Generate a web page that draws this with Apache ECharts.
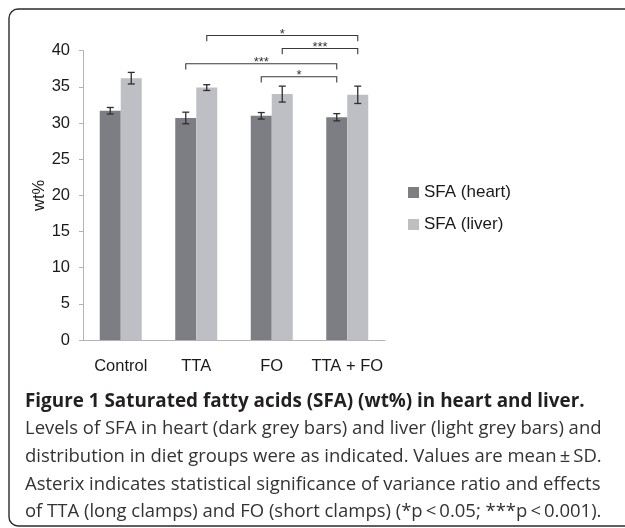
<!DOCTYPE html>
<html><head><meta charset="utf-8">
<script src="https://cdn.jsdelivr.net/npm/echarts@6/dist/echarts.min.js"></script>
<style>html,body{margin:0;padding:0;background:#fff}#c{width:625px;height:528px}</style>
</head><body><div id="c"></div>
<script>
// ---- data ----
const categories = ['Control', 'TTA', 'FO', 'TTA + FO'];
const seriesNames = ['SFA (heart)', 'SFA (liver)'];
const heartMean = [31.7, 30.7, 31.0, 30.8];
const heartSD   = [0.45, 0.8, 0.45, 0.5];
const liverMean = [36.2, 34.9, 34.0, 33.9];
const liverSD   = [0.8, 0.4, 1.1, 1.2];
const yMin = 0, yMax = 40, yStep = 5;
// significance brackets: [category, series(0 heart / 1 liver)] -> [category, series]
const bracketFrom  = [[1, 1], [2, 1], [1, 0], [2, 0]];
const bracketTo    = [[3, 1], [3, 1], [3, 0], [3, 0]];
const bracketLevel = [42.1, 40.3, 38.2, 36.4];
const bracketLabel = ['*', '***', '***', '*'];
const captionTitle = 'Figure 1 Saturated fatty acids (SFA) (wt%) in heart and liver.';
const captionLines = [
  'Levels of SFA in heart (dark grey bars) and liver (light grey bars) and',
  'distribution in diet groups were as indicated. Values are mean\u2009\u00b1\u2009SD.',
  'Asterix indicates statistical significance of variance ratio and effects',
  'of TTA (long clamps) and FO (short clamps) (*p\u2009<\u20090.05; ***p\u2009<\u20090.001).'
];

// ---- layout / style ----
const BAR_W = 21;
const HALF = BAR_W / 2;
const FONT = '"Liberation Sans", Arial, sans-serif';
const CAP_FONT = '"Open Sans", sans-serif';
const colHeart = '#7d7e83', colLiver = '#bebfc4';

const ctx = document.createElement('canvas').getContext('2d');
function fit(text, weight, target) {
  ctx.font = weight + ' 100px ' + CAP_FONT;
  return 100 * target / ctx.measureText(text).width;
}
const titleSize = Math.min(19.5, fit(captionTitle, 'bold', 560));
const lineTargets = [582, 577, 570, 577];
let s = 0;
captionLines.forEach((t, i) => { s += fit(t, 'normal', lineTargets[i]); });
const bodySize = Math.min(19.5, s / captionLines.length);
const titleY = 402;
const lineY = [429, 457, 485, 512];

function errRender(offset) {
  return function (params, api) {
    const i = api.value(0), m = api.value(1), sd = api.value(2);
    const t = api.coord([i, m + sd]), b = api.coord([i, m - sd]);
    const x = t[0] + offset, c = 3.5;
    const st = { stroke: '#2e2e2e', lineWidth: 1.3 };
    return { type: 'group', children: [
      { type: 'line', shape: { x1: x, y1: t[1], x2: x, y2: b[1] }, style: st },
      { type: 'line', shape: { x1: x - c, y1: t[1], x2: x + c, y2: t[1] }, style: st },
      { type: 'line', shape: { x1: x - c, y1: b[1], x2: x + c, y2: b[1] }, style: st }
    ] };
  };
}

const bracketData = bracketFrom.map((f, k) => [f[0], f[1], bracketTo[k][0], bracketTo[k][1], bracketLevel[k], k]);

function bracketRender(params, api) {
  const c1 = api.value(0), s1 = api.value(1), c2 = api.value(2), s2 = api.value(3), lv = api.value(4), k = api.value(5);
  const p1 = api.coord([c1, lv]), p2 = api.coord([c2, lv]);
  const x1 = p1[0] + (s1 ? HALF : -HALF), x2 = p2[0] + (s2 ? HALF : -HALF);
  const y = p1[1];
  const yd = api.coord([c1, lv - 0.8])[1];
  const st = { stroke: '#3a3a3a', lineWidth: 1.1, fill: null };
  return { type: 'group', children: [
    { type: 'polyline', shape: { points: [[x1, yd], [x1, y], [x2, y], [x2, yd]] }, style: st },
    { type: 'text', style: { text: bracketLabel[k], x: (x1 + x2) / 2, y: y - 1, align: 'center', verticalAlign: 'middle',
      fill: '#333', font: '13px ' + FONT } }
  ] };
}

const chart = echarts.init(document.getElementById('c'), null, { renderer: 'canvas' });
chart.setOption({
  animation: false,
  backgroundColor: '#fff',
  grid: { left: 83, right: 240, top: 50.7, bottom: 188, containLabel: false },
  legend: {
    data: seriesNames, orient: 'vertical', left: 408, top: 184, padding: 0,
    itemWidth: 11, itemHeight: 11, itemGap: 15, icon: 'rect', selectedMode: false,
    textStyle: { fontFamily: FONT, fontSize: 17, color: '#1a1a1a' }
  },
  xAxis: {
    type: 'category', data: categories,
    axisLine: { lineStyle: { color: '#b3b3b3', width: 1 } },
    axisTick: { show: false },
    axisLabel: { interval: 0, fontFamily: FONT, fontSize: 16.5, color: '#1a1a1a', margin: 18 }
  },
  yAxis: {
    type: 'value', min: yMin, max: yMax, interval: yStep,
    name: 'wt%', nameLocation: 'middle', nameGap: 35, nameRotate: 90,
    nameTextStyle: { fontFamily: FONT, fontSize: 16.5, color: '#1a1a1a' },
    axisLine: { show: true, lineStyle: { color: '#b3b3b3', width: 1 } },
    axisTick: { show: true, length: 4, lineStyle: { color: '#b3b3b3' } },
    splitLine: { show: false },
    axisLabel: { fontFamily: FONT, fontSize: 16.5, color: '#1a1a1a', margin: 13 }
  },
  series: [
    { name: seriesNames[0], type: 'bar', data: heartMean, barWidth: BAR_W, barGap: '0%', itemStyle: { color: colHeart } },
    { name: seriesNames[1], type: 'bar', data: liverMean, barWidth: BAR_W, barGap: '0%', itemStyle: { color: colLiver } },
    { type: 'custom', renderItem: errRender(-HALF), data: heartMean.map((m, i) => [i, m, heartSD[i]]), z: 5, clip: false },
    { type: 'custom', renderItem: errRender(HALF), data: liverMean.map((m, i) => [i, m, liverSD[i]]), z: 5, clip: false },
    { type: 'custom', renderItem: bracketRender, data: bracketData, z: 5, clip: false,
      encode: { x: [0, 2], y: 4 } }
  ],
  graphic: [
    { type: 'rect', shape: { x: 9, y: 9, width: 720, height: 517, r: 9 }, style: { fill: null, stroke: '#2b2b2b', lineWidth: 1.4 }, silent: true },
    { type: 'text', x: 25, y: titleY, style: { text: captionTitle, font: 'bold ' + titleSize.toFixed(2) + 'px ' + CAP_FONT, fill: '#231f20', verticalAlign: 'middle' } }
  ].concat(captionLines.map((t, i) => ({
    type: 'text', x: 25, y: lineY[i],
    style: { text: t, font: bodySize.toFixed(2) + 'px ' + CAP_FONT, fill: '#333', verticalAlign: 'middle' }
  })))
});
</script>
</body></html>
